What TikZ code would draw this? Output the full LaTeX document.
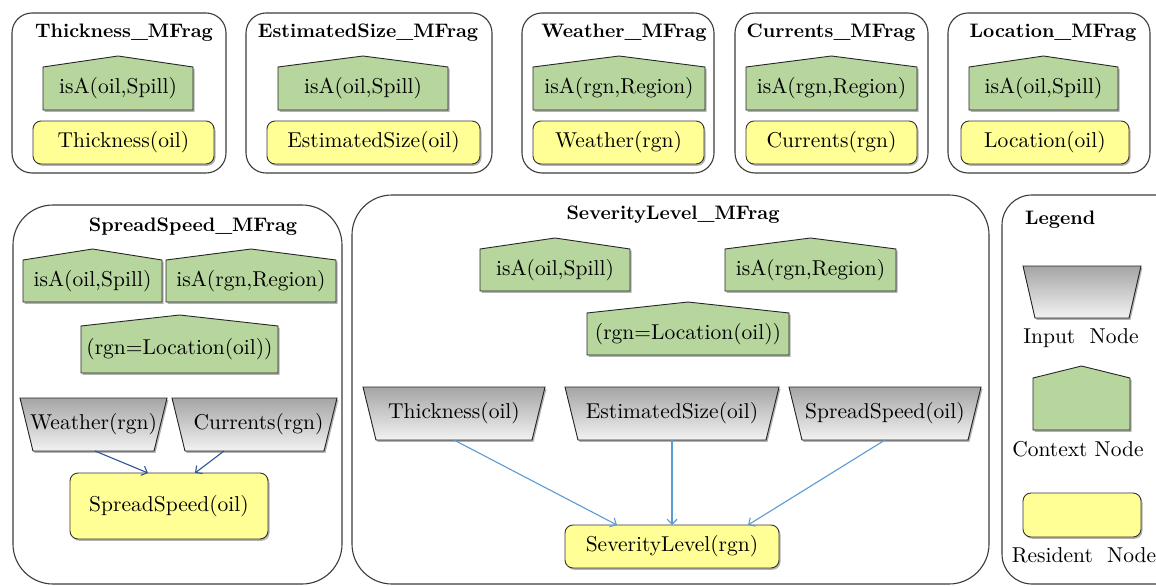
\documentclass[tikz,border=0pt]{standalone}
\usepackage{fontspec}
\setmainfont{lmroman10-regular.otf}[BoldFont=lmroman10-bold.otf]
\usetikzlibrary{arrows.meta,shadows}
\definecolor{ctxgreen}{RGB}{183,214,158}
\definecolor{resyellow}{RGB}{255,255,150}
\definecolor{inptop}{RGB}{165,165,165}
\definecolor{inpbot}{RGB}{242,242,242}
\definecolor{edgedark}{RGB}{47,85,151}
\definecolor{edgelight}{RGB}{91,155,213}
\definecolor{framegray}{RGB}{60,60,60}
\pgfdeclarelayer{frames}
\pgfdeclarelayer{shapes}
\pgfsetlayers{frames,shapes,main}

\newcommand\nodefont{\fontsize{21.5}{24}\selectfont}
\newcommand\titlefont{\fontsize{19.5}{22}\selectfont\bfseries}

% context node: pentagon with a roof above the named body box
\newcommand\drawctx[2][11pt]{%
  \begin{pgfonlayer}{shapes}
    \filldraw[ctxstyle] (#2.south west) -- (#2.north west) -- ([yshift=#1]#2.north)
      -- (#2.north east) -- (#2.south east) -- cycle;
  \end{pgfonlayer}}
% input node: trapezoid, wide side on top
\newcommand\drawinp[2][13pt]{%
  \begin{pgfonlayer}{shapes}
    \filldraw[inpstyle] (#2.north west) -- (#2.north east) -- ([xshift=-#1]#2.south east)
      -- ([xshift=#1]#2.south west) -- cycle;
  \end{pgfonlayer}}
% resident node: rounded rectangle
\newcommand\drawres[1]{%
  \begin{pgfonlayer}{shapes}
    \filldraw[resstyle] (#1.south west) rectangle (#1.north east);
  \end{pgfonlayer}}

\tikzset{
  box/.style={inner sep=0pt, outer sep=0pt, font=\nodefont},
  ttl/.style={inner sep=0pt, font=\titlefont},
  lbl/.style={inner sep=0pt, font=\nodefont},
  nshadow/.style={drop shadow={shadow xshift=1.5pt, shadow yshift=-1.8pt, opacity=0.3, fill=black}},
  ctxstyle/.style={fill=ctxgreen, draw=black!85, line width=0.9pt, nshadow},
  inpstyle/.style={top color=inptop, bottom color=inpbot, draw=black!85, line width=0.9pt, nshadow},
  resstyle/.style={fill=resyellow, draw=black!80, line width=0.9pt, rounded corners=8pt, nshadow},
  frame/.style={draw=framegray, line width=1.1pt, fill=white},
  edgeA/.style={draw=edgedark, line width=1.1pt, -{Straight Barb[length=5pt,width=10pt]}},
  edgeB/.style={draw=edgelight, line width=1.1pt, -{Straight Barb[length=5pt,width=10pt]}},
}

\begin{document}
\begin{tikzpicture}[x=1pt,y=-1pt]
\useasboundingbox (0,0) rectangle (1156,586);
\clip (0,0) rectangle (1156,586);

% ---------- fragment frames ----------
\begin{pgfonlayer}{frames}
  \fill[white] (0,0) rectangle (1156,586);
  \draw[frame, rounded corners=20pt] (12,13) rectangle (226,173);
  \draw[frame, rounded corners=20pt] (246,13) rectangle (492,173);
  \draw[frame, rounded corners=20pt] (522,13) rectangle (714,173);
  \draw[frame, rounded corners=20pt] (735,13) rectangle (928,173);
  \draw[frame, rounded corners=20pt] (948,13) rectangle (1150,173);
  \draw[frame, rounded corners=40pt] (13,205) rectangle (342,584);
  \draw[frame, rounded corners=40pt] (352,195) rectangle (989,584);
  \draw[frame, rounded corners=30pt] (1002,195) rectangle (1200,584);
\end{pgfonlayer}

% ---------- top row ----------
\node[ttl] (t1) at (124,33) {Thickness\_MFrag};
\node[box, minimum width=150pt, minimum height=43pt] (t1c) at (118,88.5) {isA(oil,Spill)};
\node[box, minimum width=181pt, minimum height=43pt] (t1r) at (123.5,142.5) {Thickness(oil)};

\node[ttl] (t2) at (368,33) {EstimatedSize\_MFrag};
\node[box, minimum width=170pt, minimum height=43pt] (t2c) at (363,88.5) {isA(oil,Spill)};
\node[box, minimum width=213pt, minimum height=43pt] (t2r) at (373.5,142.5) {EstimatedSize(oil)};

\node[ttl] (t3) at (624,33) {Weather\_MFrag};
\node[box, minimum width=172pt, minimum height=43pt] (t3c) at (619,88.5) {isA(rgn,Region)};
\node[box, minimum width=171pt, minimum height=43pt] (t3r) at (618.5,142.5) {Weather(rgn)};

\node[ttl] (t4) at (831,33) {Currents\_MFrag};
\node[box, minimum width=171pt, minimum height=43pt] (t4c) at (831.5,88.5) {isA(rgn,Region)};
\node[box, minimum width=171pt, minimum height=43pt] (t4r) at (831.5,142.5) {Currents(rgn)};

\node[ttl] (t5) at (1053,33) {Location\_MFrag};
\node[box, minimum width=149pt, minimum height=43pt] (t5c) at (1043.5,88.5) {isA(oil,Spill)};
\node[box, minimum width=168pt, minimum height=43pt] (t5r) at (1045,142.5) {Location(oil)};

\foreach \n in {t1c,t2c,t3c,t4c,t5c} {\drawctx{\n}}
\foreach \n in {t1r,t2r,t3r,t4r,t5r} {\drawres{\n}}

% ---------- SpreadSpeed fragment ----------
\node[ttl] (s0) at (193,227) {SpreadSpeed\_MFrag};
\node[box, minimum width=139pt, minimum height=42pt] (s1) at (92.5,281) {isA(oil,Spill)};
\node[box, minimum width=170pt, minimum height=42pt] (s2) at (251,281) {isA(rgn,Region)};
\node[box, minimum width=197pt, minimum height=47pt] (s3) at (179.5,349.5) {(rgn=Location(oil))};
\node[box, minimum width=147pt, minimum height=53pt] (sw) at (93.5,424.5) {Weather(rgn)};
\node[box, minimum width=165pt, minimum height=53pt] (sc) at (254.5,424.5) {\hspace*{8pt}Currents(rgn)};
\node[box, minimum width=198pt, minimum height=66pt] (sr) at (169,506) {SpreadSpeed(oil)};
\foreach \n in {s1,s2,s3} {\drawctx{\n}}
\drawinp{sw}\drawinp{sc}\drawres{sr}
\draw[edgeA] ([xshift=1.5pt]sw.south) -- ([xshift=-21pt]sr.north);
\draw[edgeA] ([xshift=-30.5pt]sc.south) -- ([xshift=26pt]sr.north);

% ---------- SeverityLevel fragment ----------
\node[ttl] (v0) at (673,215) {SeverityLevel\_MFrag};
\node[box, minimum width=150pt, minimum height=42pt] (v1) at (555,270) {isA(oil,Spill)};
\node[box, minimum width=171pt, minimum height=42pt] (v2) at (810.5,270) {isA(rgn,Region)};
\node[box, minimum width=202pt, minimum height=42pt] (v3) at (688,334) {(rgn=Location(oil))};
\node[box, minimum width=182pt, minimum height=53pt] (vt) at (454,413.5) {Thickness(oil)};
\node[box, minimum width=214pt, minimum height=53pt] (ve) at (672,413.5) {EstimatedSize(oil)};
\node[box, minimum width=192pt, minimum height=53pt] (vs) at (885,413.5) {\raisebox{3pt}{SpreadSpeed(oil)}};
\node[box, minimum width=214pt, minimum height=43pt] (vr) at (672,546.5) {SeverityLevel(rgn)};
\foreach \n in {v1,v2,v3} {\drawctx{\n}}
\drawinp{vt}\drawinp{ve}\drawinp{vs}\drawres{vr}
\draw[edgeB] (vt.south) -- ([xshift=-55pt]vr.north);
\draw[edgeB] (ve.south) -- (vr.north);
\draw[edgeB] (vs.south) -- ([xshift=76pt]vr.north);

% ---------- legend ----------
\node[ttl, anchor=west] (l0) at (1025,220) {Legend};
\node[box, minimum width=118pt, minimum height=52pt] (li) at (1082,292) {};
\node[lbl] (lit) at (1081,338) {Input~~Node};
\node[box, minimum width=97pt, minimum height=52pt] (lc) at (1081.5,404) {};
\node[lbl] (lct) at (1078,449) {Context Node};
\node[box, minimum width=118pt, minimum height=44pt] (lr) at (1082,515) {};
\node[lbl] (lrt) at (1084,555) {Resident~~Node};
\drawinp[12pt]{li}\drawctx[12pt]{lc}\drawres{lr}
\end{tikzpicture}
\end{document}
